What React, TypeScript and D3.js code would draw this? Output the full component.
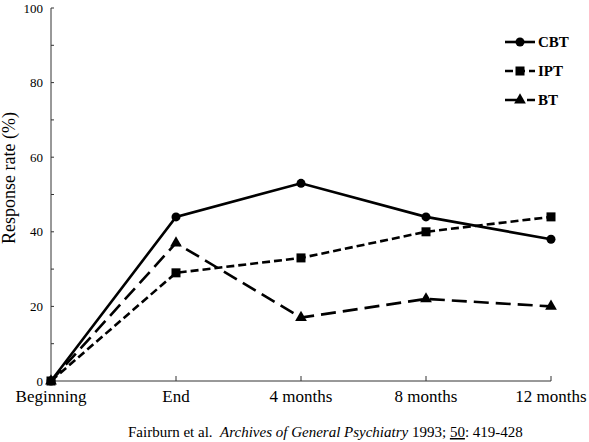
import React from "react";
import * as d3 from "d3";

const categories = ["Beginning", "End", "4 months", "8 months", "12 months"];
const cbt = [0, 44, 53, 44, 38];
const ipt = [0, 29, 33, 40, 44];
const bt = [0, 37, 17, 22, 20];
const yTicks = [0, 20, 40, 60, 80, 100];
const yMinorTicks = [10, 30, 50, 70, 90];
const seriesNames = ["CBT", "IPT", "BT"];

const W = 589;
const H = 442;
const x0 = 51;
const x1 = 551;
const yTop = 8;
const yBot = 381;
const font = "'Liberation Serif', 'Times New Roman', serif";

export default function App() {
  const x = d3.scalePoint<string>().domain(categories).range([x0, x1]);
  const y = d3.scaleLinear().domain([0, 100]).range([yBot, yTop]);
  const line = d3
    .line<number>()
    .x((_, i) => x(categories[i]) as number)
    .y((d) => y(d));

  const series = [
    { name: seriesNames[0], data: cbt, dash: "none", marker: "circle" },
    { name: seriesNames[1], data: ipt, dash: "8 4", marker: "square" },
    { name: seriesNames[2], data: bt, dash: "15 7", marker: "triangle" },
  ];

  const tri = d3.symbol().type(d3.symbolTriangle).size(60)() as string;

  const marker = (kind: string, cx: number, cy: number, key: string) => {
    if (kind === "circle") return <circle key={key} cx={cx} cy={cy} r={4.5} fill="#000" />;
    if (kind === "square")
      return <rect key={key} x={cx - 4.5} y={cy - 4.5} width={9} height={9} fill="#000" />;
    return <path key={key} d={tri} transform={`translate(${cx},${cy})`} fill="#000" />;
  };

  return (
    <svg width={W} height={H} style={{ position: "absolute", left: 0, top: 0, background: "#fff" }}>
      {/* axes */}
      <line x1={x0} x2={x0} y1={yTop} y2={yBot} stroke="#333" strokeWidth={1} />
      <line x1={x0} x2={x1} y1={yBot} y2={yBot} stroke="#333" strokeWidth={1} />
      {[...yTicks, ...yMinorTicks].map((t) => (
        <line key={"yt" + t} x1={x0} x2={x0 + 3} y1={y(t)} y2={y(t)} stroke="#333" strokeWidth={1} />
      ))}
      {categories.slice(1).map((c) => (
        <line key={"xt" + c} x1={x(c)} x2={x(c)} y1={yBot} y2={yBot - 5} stroke="#333" strokeWidth={1} />
      ))}
      {yTicks.map((t) => (
        <text key={"yl" + t} x={x0 - 8} y={y(t)} dy="0.35em" textAnchor="end" fontFamily={font} fontSize={13}>
          {t}
        </text>
      ))}
      {categories.map((c) => (
        <text key={"xl" + c} x={x(c)} y={402} textAnchor="middle" fontFamily={font} fontSize={17}>
          {c}
        </text>
      ))}
      <text
        transform={`translate(15,178) rotate(-90)`}
        textAnchor="middle"
        fontFamily={font}
        fontSize={18}
      >
        Response rate (%)
      </text>

      {/* series */}
      {series.map((s) => (
        <g key={s.name}>
          <path d={line(s.data) as string} fill="none" stroke="#000" strokeWidth={2.6} strokeDasharray={s.dash} />
          {s.data.map((v, i) => marker(s.marker, x(categories[i]) as number, y(v), s.name + i))}
        </g>
      ))}

      {/* legend */}
      {series.map((s, i) => {
        const ly = 42 + i * 29;
        return (
          <g key={"lg" + s.name}>
            <line x1={505} x2={535} y1={ly} y2={ly} stroke="#000" strokeWidth={2.6} strokeDasharray={s.dash} />
            {marker(s.marker, 520, ly, "lm" + s.name)}
            <text x={538} y={ly} dy="0.35em" fontFamily={font} fontSize={15} fontWeight="bold">
              {s.name}
            </text>
          </g>
        );
      })}

      {/* caption */}
      <text x={128} y={437} fontFamily={font} fontSize={15}>
        Fairburn et al.{"\u00a0\u00a0"}
        <tspan fontStyle="italic">Archives of General Psychiatry</tspan> 1993;{" "}
        <tspan textDecoration="underline">50</tspan>: 419-428
      </text>
    </svg>
  );
}
